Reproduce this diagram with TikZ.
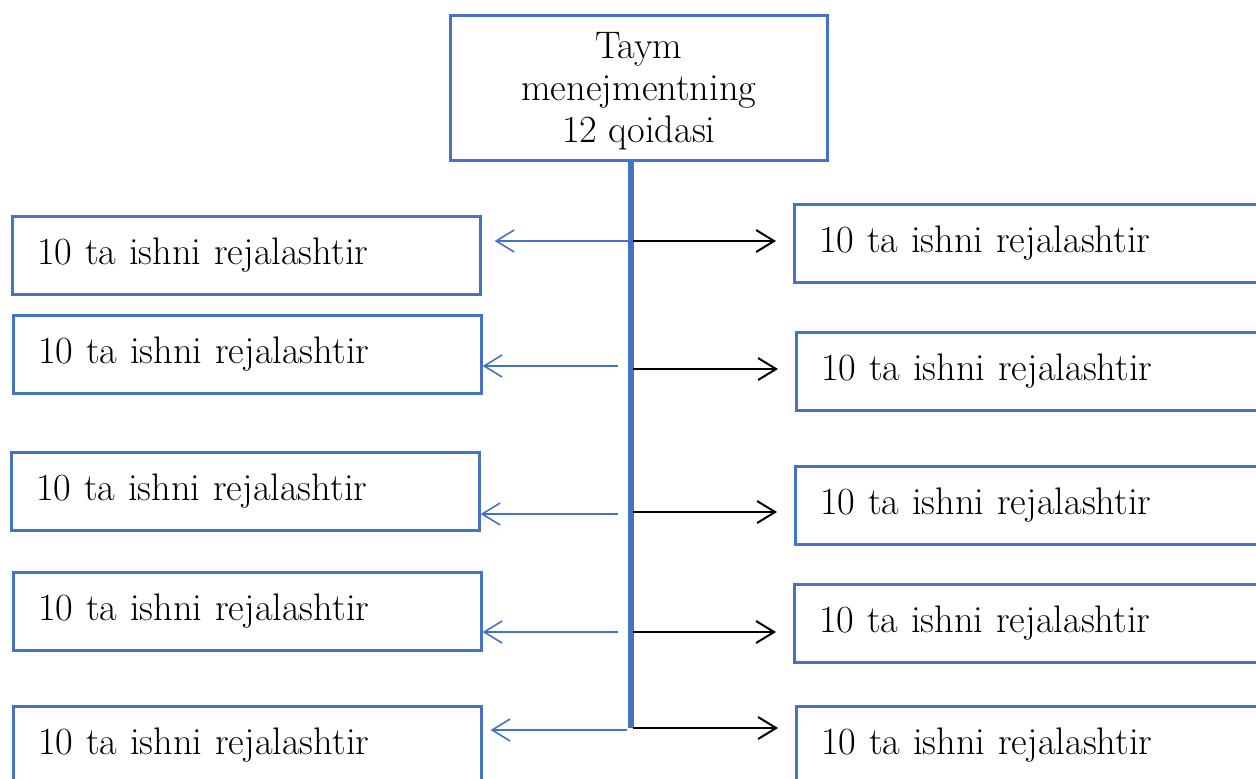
\documentclass[tikz,border=0pt]{standalone}
\usetikzlibrary{arrows.meta,positioning}
\definecolor{boxblue}{HTML}{4472C4}

\begin{document}
\begin{tikzpicture}[x=0.5pt,y=-0.5pt,
font=\fontsize{19.2pt}{21pt}\selectfont,
qoida/.style={draw=boxblue,line width=1.3pt,anchor=north west,minimum height=39pt,text width=209pt,inner xsep=12.5pt,inner ysep=0pt,align=left},
toleft/.style={draw=boxblue,line width=0.8pt,-{Straight Barb[length=9pt,width=11pt]}},
toright/.style={draw=black,line width=1pt,-{Straight Barb[length=9pt,width=11pt]},shorten >=8.5pt}]
\useasboundingbox (0,0) rectangle (1256,778);
\clip (0,0) rectangle (1256,778);

\node[draw=boxblue,line width=1.3pt,anchor=north west,minimum width=188.5pt,minimum height=72.5pt,align=center,inner sep=0pt,text depth=0pt] (top) at (449,14) {Taym\\menejmentning\\12 qoidasi};

\node[qoida] (chap1) at (11,215) {10 ta ishni rejalashtir};
\node[qoida] (chap2) at (12,314) {10 ta ishni rejalashtir};
\node[qoida] (chap3) at (10,451) {10 ta ishni rejalashtir};
\node[qoida] (chap4) at (12,571) {10 ta ishni rejalashtir};
\node[qoida] (chap5) at (12,705) {10 ta ishni rejalashtir};

\node[qoida] (ong1) at (793,203) {10 ta ishni rejalashtir};
\node[qoida] (ong2) at (795,331) {10 ta ishni rejalashtir};
\node[qoida] (ong3) at (794,465) {10 ta ishni rejalashtir};
\node[qoida] (ong4) at (793,583) {10 ta ishni rejalashtir};
\node[qoida] (ong5) at (795,705) {10 ta ishni rejalashtir};

\coordinate (spineend) at (631,728);
\draw[boxblue,line width=3pt] (spineend |- top.south) -- (spineend);

\coordinate (l1) at (630,241);
\coordinate (l2) at (618,366);
\coordinate (l3) at (618,514);
\coordinate (l4) at (618,632);
\coordinate (l5) at (627,730);
\coordinate (r1) at (633,241);
\coordinate (r2) at (633,369);
\coordinate (r3) at (633,512);
\coordinate (r4) at (633,632);
\coordinate (r5) at (633,728);

\draw[toleft,shorten >=6.5pt] (l1) -- (l1 -| chap1.east);
\draw[toleft] (l2) -- (l2 -| chap2.east);
\draw[toleft] (l3) -- (l3 -| chap3.east);
\draw[toleft] (l4) -- (l4 -| chap4.east);
\draw[toleft,shorten >=4pt] (l5) -- (l5 -| chap5.east);

\draw[toright] (r1) -- (r1 -| ong1.west);
\draw[toright] (r2) -- (r2 -| ong2.west);
\draw[toright] (r3) -- (r3 -| ong3.west);
\draw[toright] (r4) -- (r4 -| ong4.west);
\draw[toright] (r5) -- (r5 -| ong5.west);
\end{tikzpicture}
\end{document}
